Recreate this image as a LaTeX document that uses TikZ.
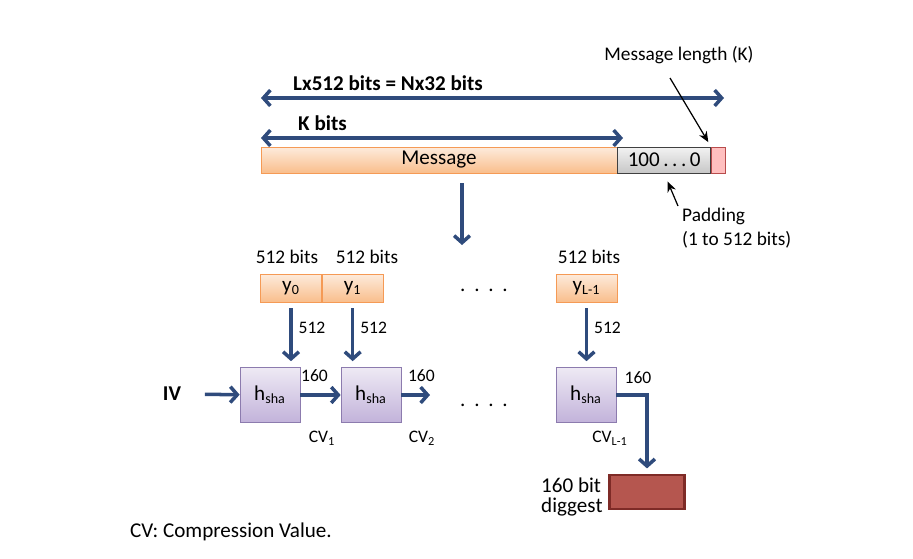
\documentclass[tikz,border=0pt]{standalone}
\usepackage{fontspec}
\setmainfont{Carlito}
\usetikzlibrary{positioning, arrows.meta}

\definecolor{flowblue}{HTML}{2F4B7C}
\definecolor{msgtop}{HTML}{FDEBDC}
\definecolor{msgbot}{HTML}{F9BE8C}
\definecolor{msgline}{HTML}{F59A55}
\definecolor{hashtop}{HTML}{EEE9F4}
\definecolor{hashbot}{HTML}{C2B3DA}
\definecolor{hashline}{HTML}{8C7BAE}
\definecolor{digfill}{HTML}{B5564F}
\definecolor{digline}{HTML}{7E2B27}

\begin{document}
\begin{tikzpicture}[x=0.02cm, y=-0.02cm, font=\fontsize{11}{13}\selectfont,
    flow/.style={draw=flowblue, line width=2pt, -{Straight Barb[length=4pt,width=9pt]}},
    span/.style={draw=flowblue, line width=2pt,
      {Straight Barb[length=4pt,width=9pt]}-{Straight Barb[length=4pt,width=9pt]}},
    pointer/.style={line width=0.7pt, -{Stealth[length=6pt,width=5pt]}},
    chunk/.style={rectangle, draw=msgline, top color=msgtop, bottom color=msgbot,
      minimum width=1.22cm, minimum height=0.56cm, inner sep=0pt},
    hashbox/.style={rectangle, draw=hashline, top color=hashtop, bottom color=hashbot,
      minimum width=1.2cm, minimum height=1.1cm, inner sep=0pt},
    big/.style={font=\fontsize{12}{14}\selectfont},
    small/.style={font=\fontsize{10}{12}\selectfont},
    strong/.style={font=\fontsize{12}{14}\selectfont\bfseries}]

  \useasboundingbox (0,0) rectangle (913,558);

  % message row
  \node [chunk, big, minimum width=7.12cm, minimum height=0.52cm] (msg) at (439,160) {Message};
  \node [rectangle, big, draw=black!75, top color=black!5, bottom color=black!22,
         minimum width=1.86cm, minimum height=0.52cm, inner sep=0pt] (pad) [right = 0pt of msg]
        {100\,.\,.\,.\,0};
  \node [rectangle, draw=red!60!black!70, fill=red!25, minimum width=0.28cm,
         minimum height=0.52cm, inner sep=0pt] (len) [right = 0pt of pad] {};

  \coordinate (totL) at (261,98);
  \coordinate (totR) at (724,98);
  \coordinate (kL) at (261,138);
  \coordinate (kR) at (623,138);
  \draw [span] (totL) -- (totR);
  \draw [span] (kL) -- (kR);
  \node [strong, anchor=west] (total) at (287,83) {Lx512 bits = Nx32 bits};
  \node [strong, anchor=west] (kbits) at (292,123) {K bits};

  % side notes
  \node (lenlabel) at (679,55) {Message length (K)};
  \coordinate (lenTail) at (670,78);
  \draw [pointer, shorten >=3pt] (lenTail) -- (len.north west);

  \node [anchor=west, align=left, font=\fontsize{11}{13.6}\selectfont] (padlabel) at (676,228)
        {Padding\\(1 to 512 bits)};
  \coordinate (padTail) at (678,206);
  \draw [pointer, shorten >=5pt] (padTail) -- (pad.south);

  % split
  \coordinate (cut) at (462,183);
  \coordinate (split) at (462,245);
  \draw [flow] (cut) -- (split);

  % blocks
  \node [chunk, big] (y0) at (291,288) {y\textsubscript{0}};
  \node [chunk, big] (y1) [right = 0pt of y0] {y\textsubscript{1}};
  \node [chunk, big] (yl) at (586.5,288) {y\textsubscript{L-1}};
  \node (bits0) at (287,257) {512 bits};
  \node (bits1) at (367,257) {512 bits};
  \node (bitsl) at (589,257) {512 bits};
  \node [big] (dotsA) at (484,290) {.\hspace{5pt}.\hspace{5pt}.\hspace{5pt}.};

  % compression chain
  \node [hashbox, big] (h1) at (270,395) {h\textsubscript{sha}};
  \node [hashbox, big] (h2) at (371,395) {h\textsubscript{sha}};
  \node [hashbox, big] (h3) at (586,395) {h\textsubscript{sha}};
  \node [strong] (iv) at (172,394) {IV};
  \node [big] (dotsB) at (484,405) {.\hspace{5pt}.\hspace{5pt}.\hspace{5pt}.};
  \coordinate (h2out) at (430,395);
  \node [rectangle, draw=digline, fill=digfill, line width=1.5pt,
         minimum width=1.5cm, minimum height=0.68cm] (digest) at (647,492) {};

  % edges
  \draw [flow, shorten <=3.4pt, shorten >=3.4pt] (y0.south) -- (y0.south |- h1.north)
        node [small, pos=0.4, right=0pt] (in0) {512};
  \draw [flow, shorten <=3.4pt, shorten >=3.4pt] (y1.south) -- (y1.south |- h2.north)
        node [small, pos=0.4, right=0pt] (in1) {512};
  \draw [flow, shorten <=3.4pt, shorten >=3.4pt] (yl.south) -- (yl.south |- h3.north)
        node [small, pos=0.4, right=0pt] (inl) {512};

  \draw [flow, shorten <=10pt] (iv) -- (h1);
  \draw [flow] (h1) -- (h2) node [small, pos=0.35, above=3pt] (o1) {160};
  \draw [flow] (h2) -- (h2out) node [small, pos=0.7, above=3pt] (o2) {160};
  \draw [flow, shorten >=3pt] (h3.east) -| (digest.north);
  \node [small] (o3) at (638,378) {160};

  \node [small] (cv1) at (322,438) {CV\textsubscript{1}};
  \node [small] (cv2) at (422,438) {CV\textsubscript{2}};
  \node [small] (cvl) at (610,438) {CV\textsubscript{L-1}};

  \node [anchor=west, align=left, font=\fontsize{12}{11.5}\selectfont] (diglabel) at (535,497)
        {160 bit\\diggest};
  \node [anchor=west, big] (note) at (124,532) {CV: Compression Value.};
\end{tikzpicture}
\end{document}
